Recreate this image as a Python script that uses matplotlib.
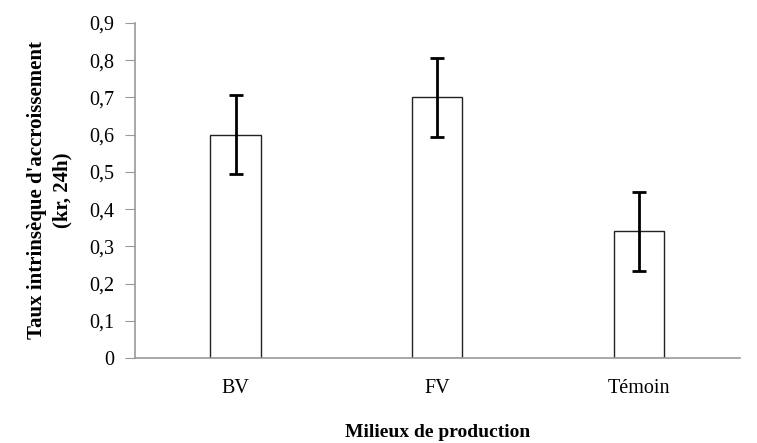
import matplotlib
matplotlib.use("Agg")
import matplotlib.pyplot as plt
from matplotlib.ticker import FuncFormatter

categories = ["BV", "FV", "Témoin"]
values = [0.60, 0.70, 0.34]
errors = [0.107, 0.107, 0.107]
yticks = [0, 0.1, 0.2, 0.3, 0.4, 0.5, 0.6, 0.7, 0.8, 0.9]

plt.rcParams['font.family'] = ['Liberation Serif', 'DejaVu Serif']

fig = plt.figure(figsize=(7.57, 4.43), dpi=100)
ax = fig.add_axes([0.178, 0.192, 0.799, 0.756])

x = range(len(categories))
ax.bar(x, values, width=0.25, color='white', edgecolor='#222222', linewidth=1.0)
ax.errorbar(x, values, yerr=errors, fmt='none', ecolor='black', elinewidth=2.0,
            capsize=4.8, capthick=2.0)

ax.set_xlim(-0.5, 2.5)
ax.set_ylim(0, 0.9)
ax.set_yticks(yticks)
ax.yaxis.set_major_formatter(FuncFormatter(lambda v, p: ('%g' % round(v, 1)).replace('.', ',')))
ax.set_xticks(list(x))
ax.set_xticklabels(categories)

for s in ['top', 'right']:
    ax.spines[s].set_visible(False)
for s in ['left', 'bottom']:
    ax.spines[s].set_color('#999999')
    ax.spines[s].set_linewidth(1.2)
ax.tick_params(axis='y', direction='out', length=7, color='#999999', labelsize=14.5, pad=8)
ax.tick_params(axis='x', length=0, labelsize=14.5, pad=15)

ax.set_ylabel("Taux intrinsèque d'accroissement\n(kr, 24h)", fontsize=15, fontweight='bold',
              labelpad=12, linespacing=1.35)
ax.set_xlabel("Milieux de production", fontsize=14, fontweight='bold', labelpad=19)

fig.savefig("out.png", dpi=100)
